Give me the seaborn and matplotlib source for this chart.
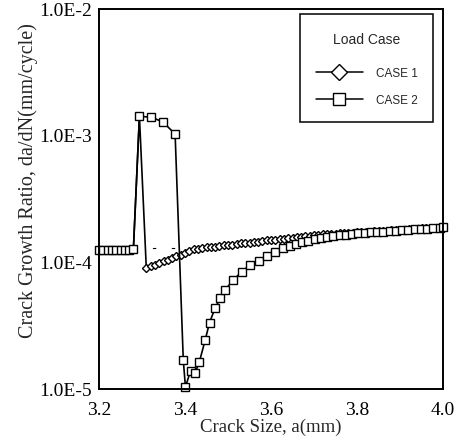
import numpy as np
import pandas as pd
import matplotlib
matplotlib.use("Agg")
import matplotlib.pyplot as plt
from matplotlib.lines import Line2D
from matplotlib.offsetbox import VPacker, DrawingArea
from matplotlib.ticker import FixedLocator, FuncFormatter, LogLocator, NullFormatter
import seaborn as sns

# ---------------- data ----------------
case1_a = [3.20, 3.21, 3.22, 3.23, 3.24, 3.25, 3.26, 3.27, 3.28, 3.294,
           3.31, 3.32, 3.33, 3.34, 3.35, 3.36, 3.37, 3.38, 3.39, 3.40,
           3.41, 3.42, 3.43, 3.44, 3.45, 3.46, 3.47, 3.48, 3.49, 3.50,
           3.51, 3.52, 3.53, 3.54, 3.55, 3.56, 3.57, 3.58, 3.59, 3.60,
           3.61, 3.62, 3.63, 3.64, 3.65, 3.66, 3.67, 3.68, 3.69, 3.70,
           3.71, 3.72, 3.73, 3.74, 3.75, 3.76, 3.77, 3.78, 3.79, 3.80,
           3.81, 3.82, 3.83, 3.84, 3.85, 3.86, 3.87, 3.88, 3.89, 3.90,
           3.91, 3.92, 3.93, 3.94, 3.95, 3.96, 3.97, 3.98, 3.99, 4.00]
case1_rate = [1.26e-4, 1.26e-4, 1.26e-4, 1.26e-4, 1.26e-4, 1.26e-4, 1.26e-4, 1.26e-4, 1.27e-4, 1.42e-3,
              0.90e-4, 0.93e-4, 0.96e-4, 0.99e-4, 1.02e-4, 1.05e-4, 1.08e-4, 1.12e-4, 1.15e-4, 1.19e-4,
              1.23e-4, 1.27e-4, 1.28e-4, 1.29e-4, 1.31e-4, 1.32e-4, 1.33e-4, 1.34e-4, 1.36e-4, 1.37e-4,
              1.38e-4, 1.39e-4, 1.41e-4, 1.42e-4, 1.43e-4, 1.45e-4, 1.46e-4, 1.47e-4, 1.49e-4, 1.50e-4,
              1.51e-4, 1.53e-4, 1.54e-4, 1.55e-4, 1.57e-4, 1.58e-4, 1.59e-4, 1.61e-4, 1.62e-4, 1.63e-4,
              1.65e-4, 1.66e-4, 1.67e-4, 1.67e-4, 1.68e-4, 1.69e-4, 1.70e-4, 1.71e-4, 1.71e-4, 1.72e-4,
              1.73e-4, 1.74e-4, 1.75e-4, 1.76e-4, 1.76e-4, 1.77e-4, 1.78e-4, 1.79e-4, 1.80e-4, 1.81e-4,
              1.81e-4, 1.82e-4, 1.83e-4, 1.84e-4, 1.85e-4, 1.86e-4, 1.87e-4, 1.87e-4, 1.88e-4, 1.89e-4]

case2_a = [3.20, 3.21, 3.22, 3.23, 3.24, 3.25, 3.26, 3.27, 3.28, 3.294,
           3.322, 3.349, 3.377, 3.396, 3.401, 3.413, 3.423, 3.433, 3.447, 3.457,
           3.470, 3.482, 3.493, 3.512, 3.532, 3.551, 3.571, 3.590, 3.609, 3.629,
           3.644, 3.658, 3.673, 3.687, 3.702, 3.716, 3.731, 3.745, 3.760, 3.774,
           3.789, 3.803, 3.818, 3.832, 3.847, 3.861, 3.876, 3.890, 3.905, 3.919,
           3.934, 3.948, 3.963, 3.977, 3.992, 4.000]
case2_rate = [1.26e-4, 1.26e-4, 1.26e-4, 1.26e-4, 1.26e-4, 1.26e-4, 1.26e-4, 1.26e-4, 1.27e-4, 1.42e-3,
              1.40e-3, 1.28e-3, 1.03e-3, 1.69e-5, 1.04e-5, 1.39e-5, 1.33e-5, 1.62e-5, 2.44e-5, 3.34e-5,
              4.35e-5, 5.20e-5, 6.04e-5, 7.25e-5, 8.43e-5, 9.50e-5, 1.03e-4, 1.13e-4, 1.21e-4, 1.30e-4,
              1.35e-4, 1.40e-4, 1.44e-4, 1.48e-4, 1.52e-4, 1.55e-4, 1.58e-4, 1.61e-4, 1.63e-4, 1.65e-4,
              1.67e-4, 1.69e-4, 1.71e-4, 1.72e-4, 1.74e-4, 1.75e-4, 1.77e-4, 1.78e-4, 1.79e-4, 1.81e-4,
              1.82e-4, 1.83e-4, 1.84e-4, 1.86e-4, 1.88e-4, 1.89e-4]

baseline_a = [3.29, 3.41]
baseline_rate = [1.30e-4, 1.30e-4]

series_names = ["CASE 1", "CASE 2"]
legend_title = "Load Case"
x_ticks = [3.2, 3.4, 3.6, 3.8, 4.0]
x_minor_ticks = [3.3, 3.5, 3.7, 3.9]
y_ticks = [1e-5, 1e-4, 1e-3, 1e-2]

# ---------------- figure ----------------
sns.set_style("white")
plt.rcParams["font.family"] = ["Liberation Serif", "DejaVu Serif"]

fig = plt.figure(figsize=(4.57, 4.44), dpi=100)
ax = fig.add_axes([99 / 457, 1 - 389 / 444, 344 / 457, 380 / 444])

df1 = pd.DataFrame({"a": case1_a, "rate": case1_rate})
df2 = pd.DataFrame({"a": case2_a, "rate": case2_rate})
dfb = pd.DataFrame({"a": baseline_a, "rate": baseline_rate})

sns.lineplot(data=dfb, x="a", y="rate", ax=ax, color="black", lw=0.8,
             linestyle=(4, (3, 14)), estimator=None, sort=False)
sns.lineplot(data=df1, x="a", y="rate", ax=ax, color="black", lw=1.2,
             marker="D", markersize=4.0, markerfacecolor="white",
             markeredgecolor="black", markeredgewidth=1.0,
             estimator=None, sort=False, clip_on=False)
sns.lineplot(data=df2, x="a", y="rate", ax=ax, color="black", lw=1.2,
             marker="s", markersize=5.5, markerfacecolor="white",
             markeredgecolor="black", markeredgewidth=1.0,
             estimator=None, sort=False, clip_on=False)

ax.set_yscale("log")
ax.set_xlim(3.2, 4.0)
ax.set_ylim(1e-5, 1e-2)

ax.xaxis.set_major_locator(FixedLocator(x_ticks))
ax.xaxis.set_minor_locator(FixedLocator(x_minor_ticks))
ax.xaxis.set_major_formatter(FuncFormatter(lambda v, p: f"{v:.1f}"))
ax.yaxis.set_major_locator(FixedLocator(y_ticks))
ax.yaxis.set_minor_locator(LogLocator(base=10, subs=np.arange(2, 10)))
ax.yaxis.set_minor_formatter(NullFormatter())
ax.yaxis.set_major_formatter(
    FuncFormatter(lambda v, p: f"1.0E{int(round(np.log10(v)))}"))

ax.tick_params(axis="both", which="both", direction="in", top=False,
               right=False, colors="black", labelsize=14, width=1.2)
ax.tick_params(axis="y", which="major", length=11, pad=5)
ax.tick_params(axis="y", which="minor", length=5)
ax.tick_params(axis="x", which="major", length=9, pad=9)
ax.tick_params(axis="x", which="minor", length=5)

for s in ax.spines.values():
    s.set_color("black")
    s.set_linewidth(1.4)

ax.set_xlabel("Crack Size, a(mm)", fontsize=13.5, labelpad=0)
ax.set_ylabel("Crack Growth Ratio, da/dN(mm/cycle)", fontsize=14.5)
ax.yaxis.set_label_coords((38 - 99) / 344, (389 - 181) / 380)

handles = [
    Line2D([], [], color="black", lw=1.1, marker="D", markersize=8.5,
           markerfacecolor="white", markeredgecolor="black", markeredgewidth=1.0),
    Line2D([], [], color="black", lw=1.1, marker="s", markersize=8.5,
           markerfacecolor="white", markeredgecolor="black", markeredgewidth=1.0),
]
leg = ax.legend(handles, series_names, title=legend_title, loc="upper right",
                bbox_to_anchor=(0.971, 0.987), borderaxespad=0,
                frameon=True, fancybox=False,
                edgecolor="black", framealpha=1, borderpad=1.3,
                handlelength=4.0, handletextpad=1.1, labelspacing=1.27,
                prop={"family": "Liberation Sans", "size": 8.5})
leg.get_title().set_fontfamily("Liberation Sans")
leg.get_title().set_fontsize(10)
# extra space above the title, as in the reference box
title_box = leg._legend_box._children[0]
leg._legend_box._children[0] = VPacker(pad=0, sep=3, align="center",
                                       children=[DrawingArea(1, 0), title_box])
leg._legend_box.sep = 14.5
leg.get_frame().set_linewidth(1.1)

fig.savefig("out.png", dpi=100)
